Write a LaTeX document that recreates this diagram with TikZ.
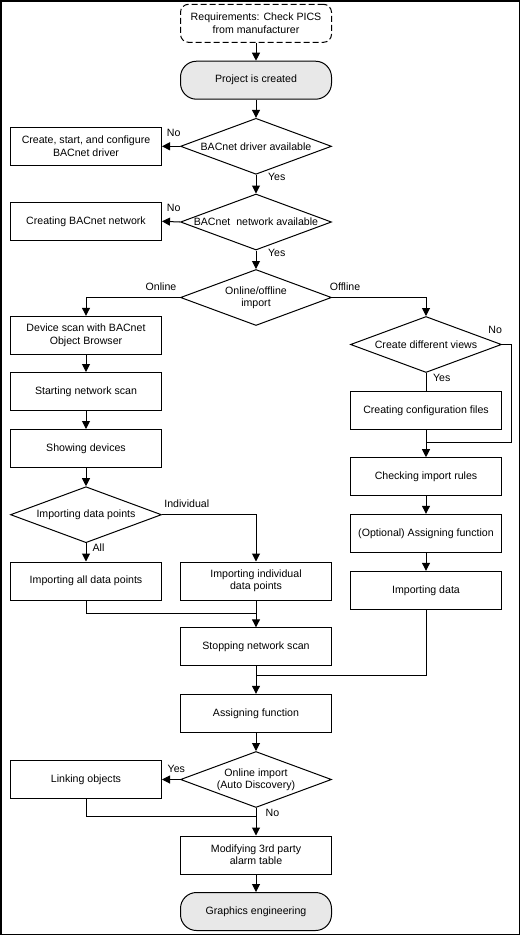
\documentclass[tikz,border=0pt]{standalone}
\usepackage{fontspec}
\setmainfont{Liberation Sans}
\usetikzlibrary{shapes.geometric,arrows.meta}
\definecolor{termgray}{HTML}{E8E8E8}

\begin{document}
\begin{tikzpicture}[
    x = 1pt, y = -1pt,
    font = \fontsize{10.6}{12.4}\selectfont,
    line width = 1pt,
    box/.style = {draw, rectangle, minimum width = 151pt, minimum height = 38pt,
                  align = center, inner sep = 0pt},
    decision/.style = {draw, diamond, aspect = 2.7, minimum width = 151pt,
                       minimum height = 56pt, align = center, inner sep = 0pt},
    terminal/.style = {draw, rectangle, rounded corners = 16pt, fill = termgray,
                       minimum width = 151pt, minimum height = 38pt},
    arr/.style = {-{Triangle[length = 8pt, width = 8pt]}},
    lbl/.style = {inner sep = 0pt}]

\useasboundingbox (0,0) rectangle (521,935);
\draw[line width = 1.5pt] (0.75,0.75) rectangle (519.7,934.3);

% main column
\node[box, dash pattern = on 6pt off 3pt, rounded corners = 8pt] (req) at (256,23.3)
      {Requirements: Check PICS\\from manufacturer};
\node[terminal] (proj) at (256,80.2) {Project is created};
\node[decision] (d1) at (256,146.3) {BACnet driver available};
\node[box] (drv) at (86,146.3) {Create, start, and configure\\BACnet driver};
\node[decision] (d2) at (256,222) {BACnet\ \ network available};
\node[box] (net) at (86,221.3) {Creating BACnet network};
\node[decision] (d3) at (256,297.5) {Online/offline\\import};

% online branch
\node[box] (scan) at (86,335.3) {Device scan with BACnet\\Object Browser};
\node[box] (start) at (86,391.5) {Starting network scan};
\node[box] (show) at (86,448.5) {Showing devices};
\node[decision] (dpts) at (86,514.7) {Importing data points};
\node[box] (all) at (86,581) {Importing all data points};
\node[box] (indiv) at (256,581) {Importing individual\\data points};

% offline branch
\node[decision] (views) at (426,344.5) {Create different views};
\node[box] (conf) at (426,410.3) {Creating configuration files};
\node[box] (rules) at (426,476.7) {Checking import rules};
\node[box] (opt) at (426,533.3) {(Optional) Assigning function};
\node[box] (imp) at (426,590.3) {Importing data};

% common end
\node[box] (stop) at (256,646.8) {Stopping network scan};
\node[box] (assign) at (256,713.3) {Assigning function};
\node[decision] (d4) at (256,779.5) {Online import\\(Auto Discovery)};
\node[box] (link) at (86,779.5) {Linking objects};
\node[box] (mod) at (256,855) {Modifying 3rd party\\alarm table};
\node[terminal] (end) at (256,911.5) {Graphics engineering};

\coordinate (j1) at (256,613.3);
\coordinate (j2) at (426,442.3);
\coordinate (j3) at (256,675.3);
\coordinate (j4) at (256,816);
\coordinate (nv) at (511.7,344.5);

\draw[arr] (req) -- (proj);
\draw[arr] (proj) -- (d1);
\draw[arr] (d1.west) -- (drv.east);
\draw[arr] (d1) -- (d2);
\draw[arr] (d2.west) -- (net.east);
\draw[arr] (d2) -- (d3);
\draw[arr] (d3.west) -| (scan.north);
\draw[arr] (d3.east) -| (views.north);
\draw[arr] (scan) -- (start);
\draw[arr] (start) -- (show);
\draw[arr] (show) -- (dpts);
\draw[arr] (dpts) -- (all);
\draw[arr] (dpts.east) -| (indiv.north);
\draw (all.south) |- (j1);
\draw[arr] (indiv) -- (stop);
\draw (views) -- (conf);
\draw (views.east) -- (nv) |- (j2);
\draw[arr] (conf) -- (rules);
\draw[arr] (rules) -- (opt);
\draw[arr] (opt) -- (imp);
\draw (imp.south) |- (j3);
\draw[arr] (stop) -- (assign);
\draw[arr] (assign) -- (d4);
\draw[arr] (d4.west) -- (link.east);
\draw (link.south) |- (j4);
\draw[arr] (d4) -- (mod);
\draw[arr] (mod) -- (end);

\path (173.7,132.5) node[lbl] (no1) {No}
      (276.7,177.3) node[lbl] (yes1) {Yes}
      (173.7,208.2) node[lbl] (no2) {No}
      (276.7,253.2) node[lbl] (yes2) {Yes}
      (161,287.2) node[lbl] (online) {Online}
      (345,287.2) node[lbl] (offline) {Offline}
      (495.2,330.2) node[lbl] (no3) {No}
      (441.7,377.8) node[lbl] (yes3) {Yes}
      (186.8,504.2) node[lbl] (indl) {Individual}
      (98.5,547.8) node[lbl] (alll) {All}
      (176.3,769.2) node[lbl] (yes4) {Yes}
      (272.5,812.5) node[lbl] (no4) {No};
\end{tikzpicture}
\end{document}
